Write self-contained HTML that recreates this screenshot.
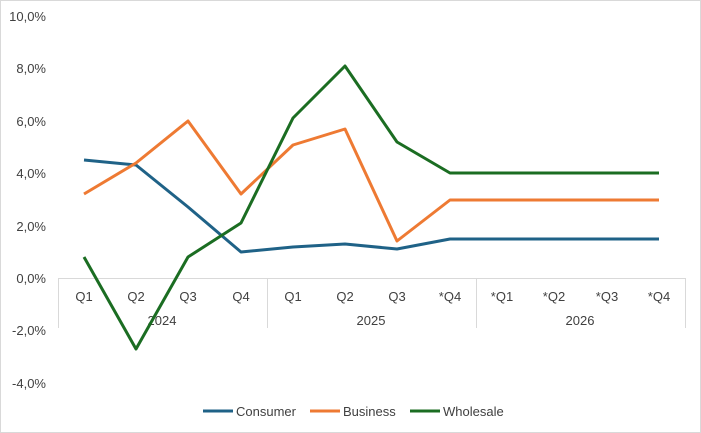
<!DOCTYPE html>
<html><head><meta charset="utf-8"><style>
html,body{margin:0;padding:0;background:#fff;}
svg{display:block;font-family:"Liberation Sans",Arial,sans-serif;}
</style></head><body>
<svg width="701" height="433" viewBox="0 0 701 433" xmlns="http://www.w3.org/2000/svg">
<rect x="0.5" y="0.5" width="700" height="432" fill="#fff" stroke="#d9d9d9"/>
<g font-size="13" fill="#404040" text-anchor="end">
<text x="46" y="21">10,0%</text>
<text x="46" y="73">8,0%</text>
<text x="46" y="126">6,0%</text>
<text x="46" y="178">4,0%</text>
<text x="46" y="231">2,0%</text>
<text x="46" y="283">0,0%</text>
<text x="46" y="335">-2,0%</text>
<text x="46" y="388">-4,0%</text>
</g>
<g stroke="#d9d9d9" stroke-width="1">
<line x1="58" y1="278.5" x2="685" y2="278.5"/>
<line x1="58.5" y1="278" x2="58.5" y2="328"/>
<line x1="267.5" y1="278" x2="267.5" y2="328"/>
<line x1="476.5" y1="278" x2="476.5" y2="328"/>
<line x1="685.5" y1="278" x2="685.5" y2="328"/>
</g>
<g font-size="13" fill="#404040" text-anchor="middle">
<text x="84" y="301">Q1</text><text x="136" y="301">Q2</text><text x="188" y="301">Q3</text><text x="241" y="301">Q4</text>
<text x="293" y="301">Q1</text><text x="345" y="301">Q2</text><text x="397" y="301">Q3</text><text x="450" y="301">*Q4</text>
<text x="502" y="301">*Q1</text><text x="554" y="301">*Q2</text><text x="607" y="301">*Q3</text><text x="659" y="301">*Q4</text>
<text x="162" y="325">2024</text><text x="371" y="325">2025</text><text x="580" y="325">2026</text>
</g>
<g fill="none" stroke-width="3" stroke-linejoin="round">
<polyline stroke="#1f6287" points="84,160 136,165 188,207 241,252 293,247 345,244 397,249 450,239 502,239 554,239 607,239 659,239"/>
<polyline stroke="#ee7a33" points="84,194 136,163 188,121 241,194 293,145 345,129 397,241 450,200 502,200 554,200 607,200 659,200"/>
<polyline stroke="#1b6d22" points="84,257 136,349 188,257 241,223 293,118 345,66 397,142 450,173 502,173 554,173 607,173 659,173"/>
</g>
<g font-size="13" fill="#404040">
<line x1="203" y1="411" x2="233" y2="411" stroke="#1f6287" stroke-width="3"/><text x="236" y="416">Consumer</text>
<line x1="310" y1="411" x2="340" y2="411" stroke="#ee7a33" stroke-width="3"/><text x="343" y="416">Business</text>
<line x1="410" y1="411" x2="440" y2="411" stroke="#1b6d22" stroke-width="3"/><text x="443" y="416">Wholesale</text>
</g>
</svg>
</body></html>
